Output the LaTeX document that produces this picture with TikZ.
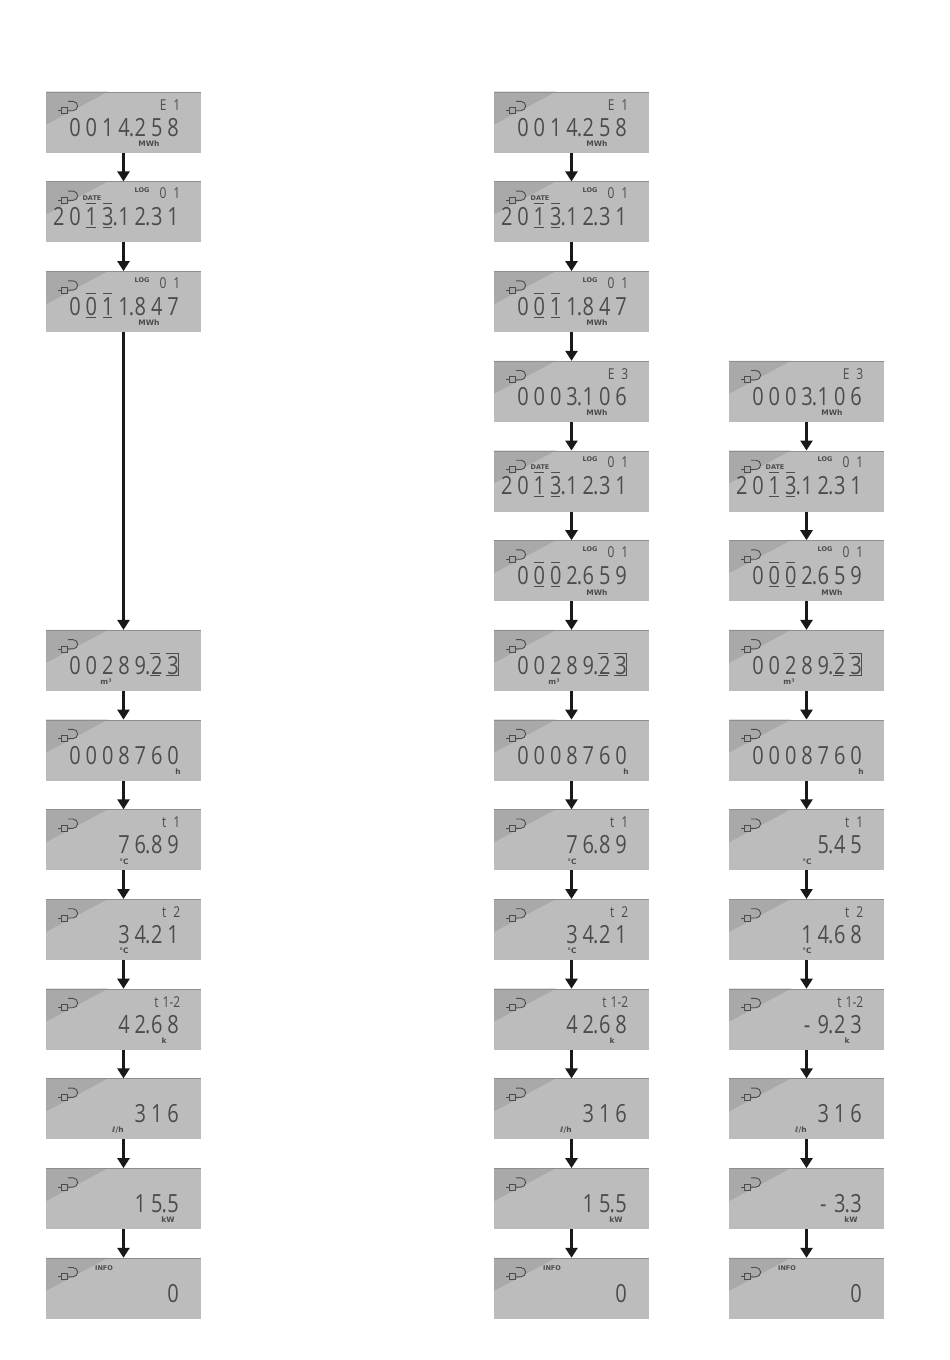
\documentclass[tikz,border=0pt]{standalone}
\usepackage{fontspec}
\usetikzlibrary{arrows.meta}
\setmainfont{DejaVu Sans}
\newfontfamily\lcdfont[FakeStretch=.8,LetterSpace=19.6]{Open Sans}
\newfontfamily\lcdsmall[FakeStretch=.8]{Open Sans}
\definecolor{lcdlight}{HTML}{BCBCBC}
\definecolor{lcddark}{HTML}{A9A9A9}
\definecolor{lcdedge}{HTML}{8E8E8E}
\definecolor{lcdink}{HTML}{4C4C4C}
\tikzset{
  lcd/.style={rectangle,anchor=north west,minimum width=155pt,minimum height=61pt,inner sep=0pt,outer sep=0pt,fill=lcdlight},
  lcdnum/.style={anchor=east,inner sep=0pt,text=lcdink,font=\lcdfont\fontsize{25}{25}\selectfont},
  lcdtop/.style={anchor=east,inner sep=0pt,text=lcdink,font=\lcdsmall\fontsize{15}{15}\selectfont},
  lcdunit/.style={inner sep=0pt,text=lcdink,font=\bfseries\fontsize{7.5}{8}\selectfont},
  lcdword/.style={lcdunit,font=\bfseries\fontsize{6.5}{7}\selectfont},
  lcdmark/.style={lcdink,line width=.6pt},
  flowarrow/.style={-{Triangle[width=12pt,length=10pt]},line width=3pt,draw=black!90}
}
\newcommand{\lcdsep}{\kern4.9pt\llap{.\kern.5pt}}
\newcommand{\lcdminus}{\makebox[11.4pt]{-}\kern4.9pt}
% name, x, row, digits, unit, unit x, extras
\newcommand{\lcdpanel}[7]{
  \begin{scope}[shift={(#2,{91.7+89.7*#3})}]
    \node [lcd] (#1) at (0,0) {};
    \fill [lcddark] (0,0) -- (62,0) -- (0,33) -- cycle;
    \draw [lcdedge,line width=1pt] (0,.5) -- (155,.5);
    \draw [lcdink,line width=.9pt] (22,9.7) -- (27,9.7) arc (-90:90:4.65) -- (21,19);
    \draw [lcdink,line width=.8pt,fill=lcddark] (15,16) rectangle (21,22);
    \draw [lcdink,line width=.8pt] (15,19) -- (11.5,19);
    \node [lcdnum] (#1-num) at (133,35.5) {#4};
    \node [lcdunit] (#1-unit) at (#6,52) {#5};
    #7
  \end{scope}
}
\newcommand{\lcdlog}[1]{
  \node [lcdword] (#1-log) at (96,9) {LOG};
  \node [lcdtop] (#1-top) at (134.5,12) {0\hspace{7pt}1};
  \draw [lcdmark] (40,22) -- (50,22) (57,22) -- (66,22) (40,46) -- (50,46) (57,46) -- (66,46);
}
\newcommand{\lcddate}[1]{
  \node [lcdword] (#1-date) at (46,17) {DATE};
  \lcdlog{#1}
}
\newcommand{\lcdbox}{
  \draw [lcdmark] (104,23) -- (114,23) (120,23) -- (132,23) -- (132,45) -- (120,45) (114,45) -- (104,45);
}
\begin{document}
\begin{tikzpicture}[x=1pt,y=-1pt]
  \useasboundingbox (0,0) rectangle (950,1360);
  % energy and its log
  \foreach \col/\x in {a/46,b/494} {
    \lcdpanel{\col0}{\x}{0}{0014\lcdsep258}{MWh}{103}{\node [lcdtop] (\col0-top) at (134.5,13) {E\hspace{7pt}1};}
    \lcdpanel{\col1}{\x}{1}{2013\lcdsep12\lcdsep31}{}{103}{\lcddate{\col1}}
    \lcdpanel{\col2}{\x}{2}{0011\lcdsep847}{MWh}{103}{\lcdlog{\col2}}
  }
  % second energy register
  \foreach \col/\x in {b/494,c/729} {
    \lcdpanel{\col3}{\x}{3}{0003\lcdsep106}{MWh}{103}{\node [lcdtop] (\col3-top) at (134.5,13) {E\hspace{7pt}3};}
    \lcdpanel{\col4}{\x}{4}{2013\lcdsep12\lcdsep31}{}{103}{\lcddate{\col4}}
    \lcdpanel{\col5}{\x}{5}{0002\lcdsep659}{MWh}{103}{\lcdlog{\col5}}
  }
  % values
  \foreach \col/\x/\tone/\ttwo/\tdiff/\pow in {
    a/46/76\lcdsep89/34\lcdsep21/42\lcdsep68/15\lcdsep5,
    b/494/76\lcdsep89/34\lcdsep21/42\lcdsep68/15\lcdsep5,
    c/729/5\lcdsep45/14\lcdsep68/\lcdminus9\lcdsep23/\lcdminus3\lcdsep3} {
    \lcdpanel{\col6}{\x}{6}{00289\lcdsep23}{m³}{60}{\lcdbox}
    \lcdpanel{\col7}{\x}{7}{0008760}{h}{132}{}
    \lcdpanel{\col8}{\x}{8}{\tone}{°C}{78}{\node [lcdtop] (\col8-top) at (134.5,13) {t\hspace{7pt}1};}
    \lcdpanel{\col9}{\x}{9}{\ttwo}{°C}{78}{\node [lcdtop] (\col9-top) at (134.5,13) {t\hspace{7pt}2};}
    \lcdpanel{\col10}{\x}{10}{\tdiff}{k}{118}{\node [lcdtop] (\col10-top) at (134.5,13) {t\hspace{4pt}1-2};}
    \lcdpanel{\col11}{\x}{11}{316}{ℓ/h}{72}{}
    \lcdpanel{\col12}{\x}{12}{\pow}{kW}{122}{}
    \lcdpanel{\col13}{\x}{13}{0}{}{103}{\node [lcdword] (\col13-info) at (58,10) {INFO};}
  }
  % connectors
  \draw [flowarrow] (a0) -- (a1);
  \draw [flowarrow] (a1) -- (a2);
  \draw [flowarrow] (a2) -- (a6);
  \foreach \i [evaluate=\i as \j using int(\i+1)] in {0,...,12} {
    \draw [flowarrow] (b\i) -- (b\j);
  }
  \foreach \i [evaluate=\i as \j using int(\i+1)] in {3,...,12} {
    \draw [flowarrow] (c\i) -- (c\j);
  }
  \foreach \i [evaluate=\i as \j using int(\i+1)] in {6,...,12} {
    \draw [flowarrow] (a\i) -- (a\j);
  }
\end{tikzpicture}
\end{document}
